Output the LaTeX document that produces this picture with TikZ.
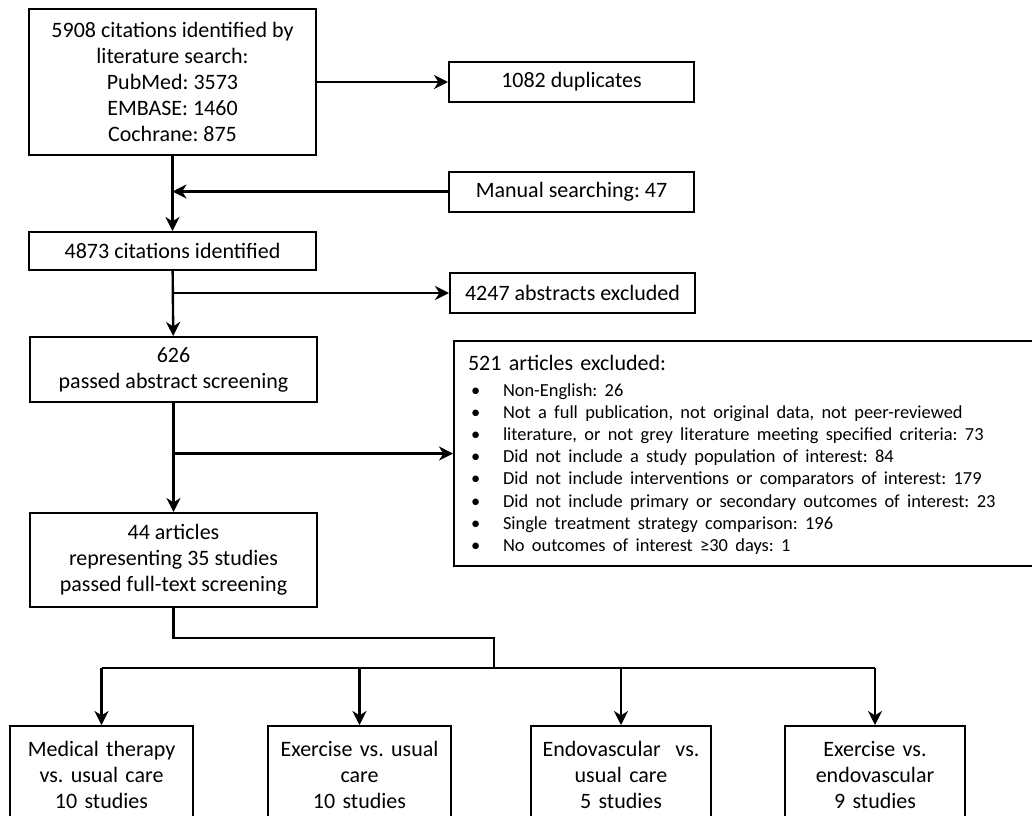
\documentclass[tikz,border=0pt]{standalone}
\usepackage{fontspec}
\setmainfont{Carlito}
\usetikzlibrary{arrows.meta}

\begin{document}
\begin{tikzpicture}[x=0.5pt,y=-0.5pt,>={Stealth[length=7pt,width=7pt,inset=2.2pt]},
    every node/.style={draw,line width=1pt,inner sep=0pt,align=center,font=\fontsize{11}{13}\selectfont\frenchspacing},
    box/.style={minimum width=143.5pt},
    side/.style={minimum width=122.5pt,minimum height=20pt},
    study/.style={anchor=north,text width=88pt},
    link/.style={line width=1.2pt}]
    \useasboundingbox (0,0) rectangle (1032,815);
    % main column
    \node [box,minimum height=73pt] (found) at (172.5,82) {5908 citations identified by\\literature search:\\PubMed: 3573\\EMBASE: 1460\\Cochrane: 875};
    \node [box,minimum height=19pt] (ident) at (172.5,251) {4873 citations identified};
    \node [box,minimum height=32.5pt] (abst) at (173.5,369.5) {626\\passed abstract screening};
    \node [box,minimum height=47pt] (full) at (173.5,560) {44 articles\\representing 35 studies\\passed full-text screening};
    % side boxes
    \node [side] (dup) at (571.5,82) {1082 duplicates};
    \node [side] (manual) at (571.5,191.5) {Manual searching: 47};
    \node [side] (exabs) at (572.5,293) {4247 abstracts excluded};
    \node [anchor=north west,align=left,text width=277.5pt,inner xsep=7pt,inner ysep=4pt,minimum height=111.5pt] (exart) at (453,340)
      {\rule{0pt}{10.5pt}521 articles excluded:\\
       \fontsize{9.2}{11.1}\selectfont
       \begin{tabular}[t]{@{\hspace{1.5pt}}p{16pt}@{}l@{}}
       \textbullet & Non-English: 26\\
       \textbullet & Not a full publication, not original data, not peer-reviewed\\
       \textbullet & literature, or not grey literature meeting specified criteria: 73\\
       \textbullet & Did not include a study population of interest: 84\\
       \textbullet & Did not include interventions or comparators of interest: 179\\
       \textbullet & Did not include primary or secondary outcomes of interest: 23\\
       \textbullet & Single treatment strategy comparison: 196\\
       \textbullet & No outcomes of interest \smash{≥}30 days: 1
       \end{tabular}};
    % comparisons
    \node [study,minimum width=91.5pt] (med) at (101.5,725) {\rule{0pt}{15pt}Medical therapy\\vs. usual care\\10 studies\rule[-12pt]{0pt}{12pt}};
    \node [study,minimum width=91.5pt] (exuc) at (359.5,725) {\rule{0pt}{15pt}Exercise vs. usual\\care\\10 studies\rule[-12pt]{0pt}{12pt}};
    \node [study,minimum width=90pt] (enduc) at (621,725) {\rule{0pt}{15pt}Endovascular\ \ vs.\\usual care\\5 studies\rule[-12pt]{0pt}{12pt}};
    \node [study,minimum width=90pt] (exend) at (875,725) {\rule{0pt}{15pt}Exercise vs.\\endovascular\\9 studies\rule[-12pt]{0pt}{12pt}};
    \coordinate (j1) at (found.south |- manual.west);
    \coordinate (j2) at (ident.south |- exabs.west);
    \coordinate (j3) at (abst.south |- exart.west);
    \coordinate (turn) at (494,638);
    \coordinate (hub) at (494,668);
    \draw [link,->] (found.east) -- (dup.west);
    \draw [link,->] (found) -- (ident);
    \draw [link,->] (manual) -- (j1);
    \draw [link,->] (ident) -- (abst);
    \draw [link,->] (j2) -- (exabs);
    \draw [link,->] (abst) -- (full);
    \draw [link,->] (j3) -- (exart.west);
    \draw [link] (full.south) |- (turn) -- (hub);
    \draw [link] (med.north |- hub) -- (exend.north |- hub);
    \foreach \n in {med,exuc,enduc,exend}
      \draw [link,->] (\n.north |- hub) -- (\n.north);
\end{tikzpicture}
\end{document}
